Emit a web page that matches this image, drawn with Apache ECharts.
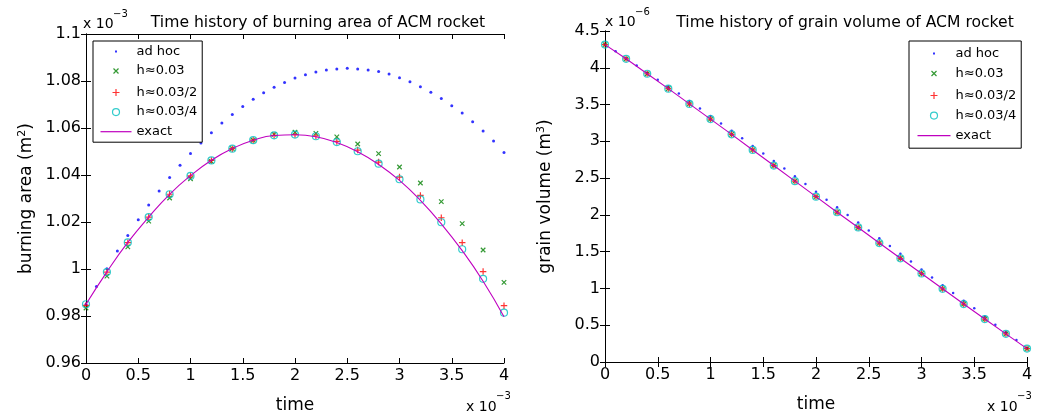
<!DOCTYPE html>
<html>
<head>
<meta charset="utf-8">
<script src="https://cdn.jsdelivr.net/npm/echarts@6/dist/echarts.min.js"></script>
<style>html,body{margin:0;padding:0;background:#fff}#c{width:1044px;height:419px}</style>
</head>
<body>
<div id="c"></div>
<script>
// time axis (units of 1e-3)
const timeFine = [0,0.1,0.2,0.3,0.4,0.5,0.6,0.7,0.8,0.9,1.0,1.1,1.2,1.3,1.4,1.5,1.6,1.7,1.8,1.9,2.0,2.1,2.2,2.3,2.4,2.5,2.6,2.7,2.8,2.9,3.0,3.1,3.2,3.3,3.4,3.5,3.6,3.7,3.8,3.9,4.0];
const timeCoarse = [0,0.2,0.4,0.6,0.8,1.0,1.2,1.4,1.6,1.8,2.0,2.2,2.4,2.6,2.8,3.0,3.2,3.4,3.6,3.8,4.0];

// burning area (units of 1e-3 m^2)
const areaAdHoc = [0.9850,0.9926,1.0001,1.0077,1.0143,1.0210,1.0272,1.0332,1.0389,1.0441,1.0491,1.0536,1.0580,1.0621,1.0657,1.0691,1.0722,1.0750,1.0773,1.0794,1.0813,1.0827,1.0838,1.0847,1.0851,1.0854,1.0851,1.0847,1.0840,1.0830,1.0814,1.0797,1.0776,1.0752,1.0726,1.0695,1.0664,1.0627,1.0587,1.0545,1.0496];
const areaH = [0.9834,0.9970,1.0094,1.0204,1.0302,1.0384,1.0458,1.0512,1.0548,1.0573,1.0582,1.0577,1.0562,1.0532,1.0491,1.0434,1.0366,1.0287,1.0193,1.0081,0.9943];
const areaH2 = [0.9845,0.9987,1.0112,1.0221,1.0318,1.0396,1.0462,1.0512,1.0548,1.0569,1.0572,1.0566,1.0543,1.0506,1.0455,1.0391,1.0313,1.0218,1.0112,0.9989,0.9844];
const areaH4 = [0.9850,0.9987,1.0113,1.0221,1.0318,1.0396,1.0462,1.0512,1.0548,1.0569,1.0572,1.0565,1.0540,1.0501,1.0448,1.0382,1.0296,1.0199,1.0084,0.9958,0.9814];
const areaExact = [0.9850,0.9988,1.0113,1.0221,1.0318,1.0397,1.0463,1.0513,1.0548,1.0568,1.0571,1.0563,1.0538,1.0499,1.0445,1.0377,1.0292,1.0192,1.0078,0.9948,0.9797];

// grain volume (units of 1e-6 m^3)
const volAdHoc = [4.315,4.225,4.127,4.032,3.934,3.838,3.744,3.649,3.547,3.446,3.345,3.243,3.143,3.041,2.937,2.833,2.731,2.631,2.524,2.419,2.313,2.207,2.103,2.000,1.896,1.788,1.681,1.577,1.470,1.365,1.257,1.149,1.043,0.937,0.833,0.730,0.618,0.507,0.403,0.299,0.192];
const volH = [4.315,4.122,3.919,3.716,3.509,3.302,3.095,2.883,2.671,2.459,2.248,2.036,1.829,1.617,1.410,1.203,0.995,0.788,0.584,0.383,0.182];
const volH2 = [4.315,4.122,3.919,3.716,3.509,3.302,3.095,2.883,2.671,2.459,2.248,2.036,1.829,1.617,1.410,1.203,0.995,0.788,0.584,0.383,0.182];
const volH4 = [4.315,4.122,3.919,3.716,3.509,3.302,3.095,2.883,2.671,2.459,2.248,2.036,1.829,1.617,1.410,1.203,0.995,0.788,0.584,0.383,0.182];
const volExact = [4.315,4.122,3.919,3.716,3.509,3.302,3.095,2.883,2.671,2.459,2.248,2.036,1.829,1.617,1.410,1.203,0.995,0.788,0.584,0.383,0.182];

// tick labels
const xTickLabels = ['0','0.5','1','1.5','2','2.5','3','3.5','4'];
const areaTickLabels = ['0.96','0.98','1','1.02','1.04','1.06','1.08','1.1'];
const volTickLabels = ['0','0.5','1','1.5','2','2.5','3','3.5','4','4.5'];

const seriesNames = ['ad hoc','h\u22480.03','h\u22480.03/2','h\u22480.03/4','exact'];

const FONT = 'DejaVu Sans';
const C_BLUE = '#0000ff', C_GREEN = '#008000', C_RED = '#ff0000', C_CYAN = '#00bfbf', C_MAG = '#bf00bf';

const pair = (xs, ys) => xs.map((x, i) => [x, ys[i]]);
const SYM_X = 'path://M0,0L10,10M10,0L0,10';
const SYM_P = 'path://M5,0L5,10M0,5L10,5';

function xAxes(grid) {
  const base = {gridIndex: grid, type: 'value', min: 0, max: 4, interval: 0.5,
    axisLine: {lineStyle: {color: '#000', width: 1}},
    axisTick: {inside: true, length: 5, lineStyle: {color: '#000'}},
    splitLine: {show: false}};
  return [
    Object.assign({}, base, {position: 'bottom',
      axisLabel: {color: '#000', fontFamily: FONT, fontSize: 16, margin: 5,
        formatter: (v) => xTickLabels[Math.round(v / 0.5)]},
      name: 'time', nameLocation: 'middle', nameGap: 34,
      nameTextStyle: {color: '#000', fontFamily: FONT, fontSize: 17}}),
    Object.assign({}, base, {position: 'top', axisLabel: {show: false}})
  ];
}
function yAxes(grid, min, max, interval, labels, nameRich) {
  const base = {gridIndex: grid, type: 'value', min: min, max: max, interval: interval,
    axisLine: {lineStyle: {color: '#000', width: 1}},
    axisTick: {inside: true, length: 5, lineStyle: {color: '#000'}},
    splitLine: {show: false}};
  return [
    Object.assign({}, base, {position: 'left',
      axisLabel: {color: '#000', fontFamily: FONT, fontSize: 16, margin: 5,
        formatter: (v) => labels[Math.round((v - min) / interval)]},
      name: nameRich, nameLocation: 'middle', nameGap: 50, nameRotate: 90,
      nameTextStyle: {color: '#000', fontFamily: FONT, fontSize: 17,
        rich: {s: {fontFamily: FONT, fontSize: 11, verticalAlign: 'top', padding: [0,0,8,0]}}}}),
    Object.assign({}, base, {position: 'right', axisLabel: {show: false}})
  ];
}

function seriesFor(grid, xi, yi, adhoc, h, h2, h4, ex, sizes) {
  return [
    {name: seriesNames[0], type: 'scatter', xAxisIndex: xi, yAxisIndex: yi, clip: false,
      symbol: 'circle', symbolSize: sizes.dot, itemStyle: {color: C_BLUE},
      data: pair(timeFine, adhoc)},
    {name: seriesNames[1], type: 'scatter', xAxisIndex: xi, yAxisIndex: yi, clip: false,
      symbol: SYM_X, symbolSize: sizes.x,
      itemStyle: {color: 'none', borderColor: C_GREEN, borderWidth: 1.2},
      data: pair(timeCoarse, h)},
    {name: seriesNames[2], type: 'scatter', xAxisIndex: xi, yAxisIndex: yi, clip: false,
      symbol: SYM_P, symbolSize: sizes.p,
      itemStyle: {color: 'none', borderColor: C_RED, borderWidth: 1.2},
      data: pair(timeCoarse, h2)},
    {name: seriesNames[3], type: 'scatter', xAxisIndex: xi, yAxisIndex: yi, clip: false,
      symbol: 'circle', symbolSize: sizes.o,
      itemStyle: {color: 'rgba(0,0,0,0)', borderColor: C_CYAN, borderWidth: 1.2},
      data: pair(timeCoarse, h4)},
    {name: seriesNames[4], type: 'line', xAxisIndex: xi, yAxisIndex: yi, symbol: 'none',
      smooth: sizes.smooth, lineStyle: {color: C_MAG, width: 1.1}, itemStyle: {color: C_MAG},
      data: pair(timeCoarse, ex)}
  ];
}

function legendData(w) {
  const box = 'M0,0M' + w + ',12';
  const cx = w / 2;
  return [
    {name: seriesNames[0], icon: 'path://' + box + 'M' + (cx-1) + ',5L' + (cx+1) + ',5L' + (cx+1) + ',7L' + (cx-1) + ',7Z',
      itemStyle: {color: C_BLUE, borderWidth: 0}},
    {name: seriesNames[1], icon: 'path://' + box + 'M' + (cx-2.5) + ',3.5L' + (cx+2.5) + ',8.5M' + (cx+2.5) + ',3.5L' + (cx-2.5) + ',8.5',
      itemStyle: {color: 'none', borderColor: C_GREEN, borderWidth: 1.2}},
    {name: seriesNames[2], icon: 'path://' + box + 'M' + cx + ',2.5L' + cx + ',9.5M' + (cx-3.5) + ',6L' + (cx+3.5) + ',6',
      itemStyle: {color: 'none', borderColor: C_RED, borderWidth: 1.2}},
    {name: seriesNames[3], icon: 'path://' + box + 'M' + (cx+3.5) + ',6A3.5,3.5,0,1,1,' + (cx-3.5) + ',6A3.5,3.5,0,1,1,' + (cx+3.5) + ',6Z',
      itemStyle: {color: 'rgba(0,0,0,0)', borderColor: C_CYAN, borderWidth: 1.2}},
    {name: seriesNames[4], icon: 'path://' + box + 'M0,6L' + w + ',6',
      itemStyle: {color: 'none', borderColor: C_MAG, borderWidth: 1.2}}
  ];
}

const legendBase = {orient: 'vertical', selectedMode: false, borderColor: '#000', borderWidth: 1,
  backgroundColor: '#fff', itemHeight: 12,
  textStyle: {color: '#000', fontFamily: FONT, fontSize: 13, lineHeight: 12}};

const txt = (x, y, s, size) => ({type: 'text', x: x, y: y,
  style: {text: s, fill: '#000', font: size + 'px "' + FONT + '"', textVerticalAlign: 'middle', verticalAlign: 'middle'}});

const option = {
  animation: false,
  backgroundColor: '#fff',
  title: [
    {text: 'Time history of burning area of ACM rocket', left: 313, top: 10, textAlign: 'center',
      textStyle: {color: '#000', fontFamily: FONT, fontSize: 15.6, fontWeight: 'normal'}},
    {text: 'Time history of grain volume of ACM rocket', left: 840, top: 10, textAlign: 'center',
      textStyle: {color: '#000', fontFamily: FONT, fontSize: 15.6, fontWeight: 'normal'}}
  ],
  grid: [
    {left: 86, top: 34, width: 418, height: 329},
    {left: 605, top: 31, width: 422, height: 331}
  ],
  xAxis: xAxes(0).concat(xAxes(1)),
  yAxis: yAxes(0, 0.96, 1.1, 0.02, areaTickLabels, 'burning area (m{s|2})')
    .concat(yAxes(1, 0, 4.5, 0.5, volTickLabels, 'grain volume (m{s|3})')),
  legend: [
    Object.assign({}, legendBase, {left: 93, top: 41, padding: [4, 5, 2, 5], itemWidth: 31, itemGap: 4.5,
      data: legendData(31)}),
    Object.assign({}, legendBase, {left: 909, top: 41, padding: [6, 5, 4, 6], itemWidth: 33, itemGap: 5,
      data: legendData(33)})
  ],
  series: seriesFor(0, 0, 0, areaAdHoc, areaH, areaH2, areaH4, areaExact, {dot: 3, x: 4.5, p: 6.5, o: 7, smooth: true})
    .concat(seriesFor(1, 2, 2, volAdHoc, volH, volH2, volH4, volExact, {dot: 2.5, x: 4.5, p: 6, o: 7, smooth: false})),
  graphic: [
    txt(83, 24, 'x 10', 14), txt(113, 14, '\u22123', 10),
    txt(605, 22, 'x 10', 14), txt(635, 12, '\u22126', 10),
    txt(466, 407, 'x 10', 14), txt(496, 396, '\u22123', 10),
    txt(987, 407, 'x 10', 14), txt(1017, 396, '\u22123', 10)
  ]
};

const chart = echarts.init(document.getElementById('c'), null, {renderer: 'canvas'});
chart.setOption(option);
</script>
</body>
</html>
